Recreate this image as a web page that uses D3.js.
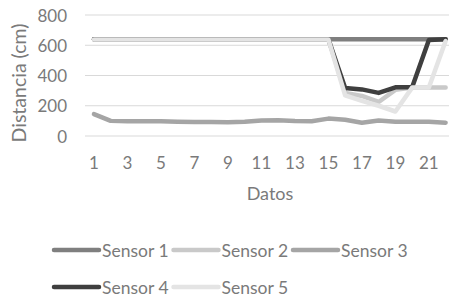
<!DOCTYPE html>
<html>
<head>
<meta charset="utf-8">
<script src="https://cdn.jsdelivr.net/npm/d3@7"></script>
<style>
  body { margin: 0; background: #fff; }
  text { font-family: Lato, "Open Sans", sans-serif; fill: #7a7a7a; }
</style>
</head>
<body>
<div id="chart"></div>
<script>
// data
const datos = [1, 2, 3, 4, 5, 6, 7, 8, 9, 10, 11, 12, 13, 14, 15, 16, 17, 18, 19, 20, 21, 22];
const sensor1 = [640, 640, 640, 640, 640, 640, 640, 640, 640, 640, 640, 640, 640, 640, 640, 640, 640, 640, 640, 640, 640, 640];
const sensor2 = [640, 640, 640, 640, 640, 640, 640, 640, 640, 640, 640, 640, 640, 640, 640, 285, 265, 225, 305, 320, 320, 320];
const sensor3 = [145, 100, 97, 97, 97, 94, 93, 92, 91, 95, 103, 104, 99, 97, 115, 108, 88, 102, 95, 94, 95, 88];
const sensor4 = [640, 640, 640, 640, 640, 640, 640, 640, 640, 640, 640, 640, 640, 640, 640, 318, 308, 285, 322, 322, 635, 640];
const sensor5 = [638, 638, 638, 638, 638, 638, 638, 638, 638, 638, 638, 638, 638, 638, 638, 268, 232, 200, 162, 320, 320, 628];
const seriesNames = ["Sensor 1", "Sensor 2", "Sensor 3", "Sensor 4", "Sensor 5"];
const yTicks = [0, 200, 400, 600, 800];

const width = 449, height = 301;
const colors = ["#7f7f7f", "#c9c9c9", "#a5a5a5", "#3f3f3f", "#e4e4e4"];
const series = [sensor1, sensor2, sensor3, sensor4, sensor5];

const svg = d3.select("#chart").append("svg")
    .attr("width", width).attr("height", height);

const x = d3.scalePoint()
    .domain(datos)
    .range([85.6, 454])
    .padding(0.5);

const y = d3.scaleLinear()
    .domain([0, 800])
    .range([136, 15]);

// gridlines
svg.append("g").selectAll("line")
    .data(yTicks)
    .enter().append("line")
    .attr("x1", 85).attr("x2", 454)
    .attr("y1", d => y(d)).attr("y2", d => y(d))
    .attr("stroke", "#d9d9d9")
    .attr("stroke-width", 1);

// y labels
svg.append("g").selectAll("text")
    .data(yTicks)
    .enter().append("text")
    .attr("x", 67)
    .attr("y", d => y(d))
    .attr("text-anchor", "end")
    .attr("dominant-baseline", "central")
    .style("font-size", "17px")
    .text(d => d);

// x labels, every other one
svg.append("g").selectAll("text")
    .data(datos.filter(d => d % 2 == 1))
    .enter().append("text")
    .attr("x", d => x(d))
    .attr("y", 162)
    .attr("text-anchor", "middle")
    .attr("dominant-baseline", "central")
    .style("font-size", "17px")
    .text(d => d);

// axis titles
svg.append("text")
    .attr("x", 270).attr("y", 193)
    .attr("text-anchor", "middle")
    .attr("dominant-baseline", "central")
    .style("font-size", "18px")
    .text("Datos");

svg.append("text")
    .attr("transform", "translate(18,83) rotate(-90)")
    .attr("text-anchor", "middle")
    .attr("dominant-baseline", "central")
    .style("font-size", "19.5px")
    .text("Distancia (cm)");

// lines
const line = d3.line()
    .x((d, i) => x(datos[i]))
    .y(d => y(d));

svg.append("g").selectAll("path")
    .data(series)
    .enter().append("path")
    .attr("d", line)
    .attr("fill", "none")
    .attr("stroke", (d, i) => colors[i])
    .attr("stroke-width", 4.5)
    .attr("stroke-linejoin", "round")
    .attr("stroke-linecap", "round");

// legend
const legend = svg.append("g").selectAll("g")
    .data(seriesNames)
    .enter().append("g")
    .attr("transform", (d, i) => `translate(${54 + (i % 3) * 119.5}, ${i < 3 ? 250 : 287})`);

legend.append("line")
    .attr("x1", 0).attr("x2", 45)
    .attr("y1", 0).attr("y2", 0)
    .attr("stroke", (d, i) => colors[i])
    .attr("stroke-width", 4.5)
    .attr("stroke-linecap", "round");

legend.append("text")
    .attr("x", 48).attr("y", 0)
    .attr("dominant-baseline", "central")
    .style("font-size", "17.5px")
    .text(d => d);
</script>
</body>
</html>
